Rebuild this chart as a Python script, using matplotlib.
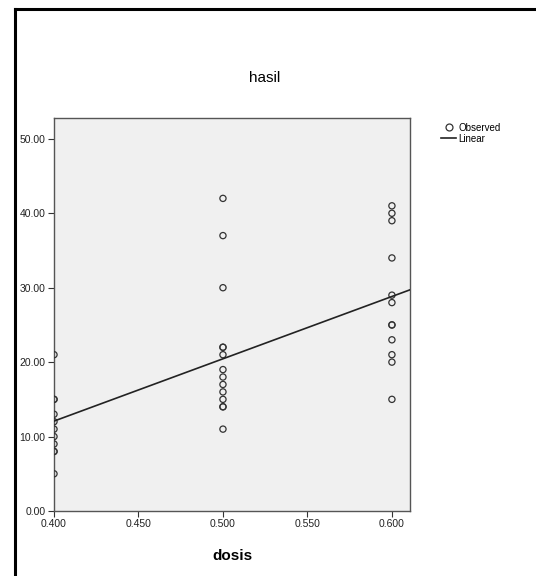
import matplotlib
matplotlib.use("Agg")
import matplotlib.pyplot as plt
import numpy as np
from matplotlib.lines import Line2D

plt.rcParams['font.family'] = ['Liberation Sans', 'DejaVu Sans']

# Observed data: dosis -> hasil
dosis_04 = [21, 15, 15, 13, 12, 11, 10, 9, 8, 8, 5]
dosis_05 = [42, 37, 30, 22, 22, 21, 19, 18, 17, 16, 15, 14, 14, 11]
dosis_06 = [41, 40, 39, 34, 29, 28, 25, 25, 23, 21, 20, 15]
dose_levels = [0.4, 0.5, 0.6]

x_ticks = [0.400, 0.450, 0.500, 0.550, 0.600]
y_ticks = [0.0, 10.0, 20.0, 30.0, 40.0, 50.0]

x = np.concatenate([np.full(len(v), d) for d, v in zip(dose_levels, [dosis_04, dosis_05, dosis_06])])
y = np.concatenate([dosis_04, dosis_05, dosis_06]).astype(float)

fig = plt.figure(figsize=(5.36, 5.76), dpi=100)
ax = fig.add_axes([54/536, 1-511/576, (410-54)/536, (511-118)/576])
ax.set_facecolor('#f0f0f0')

ax.scatter(x, y, s=20, facecolors='none', edgecolors='#333333', linewidths=0.9, zorder=3, clip_on=True)

slope, intercept = np.polyfit(x, y, 1)
xl = np.array([0.4, 0.6107])
ax.plot(xl, intercept + slope * xl, color='#222222', lw=1.2, zorder=4)

ax.set_xlim(0.4, 0.6107)
ax.set_ylim(0, 52.8)
ax.set_xticks(x_ticks)
ax.set_xticklabels([f"{t:.3f}" for t in x_ticks])
ax.set_yticks(y_ticks)
ax.set_yticklabels([f"{t:.2f}" for t in y_ticks])
ax.tick_params(direction='out', length=4, width=0.8, colors='#333333', labelsize=7.5, labelcolor='#222222', pad=2)
for s in ax.spines.values():
    s.set_color('#555555')
    s.set_linewidth(1.0)

ax.set_xlabel('dosis', fontsize=11, fontweight='bold', labelpad=14)
fig.text(265/536, 1-78/576, 'hasil', ha='center', va='center', fontsize=11)

handles = [Line2D([], [], marker='o', ls='none', mfc='none', mec='#333333', ms=5, mew=0.9),
           Line2D([], [], color='#222222', lw=1.2)]
fig.legend(handles, ['Observed', 'Linear'], loc='upper left', bbox_to_anchor=(436/536, 1-118/576),
           frameon=False, fontsize=7, handlelength=1.6, handletextpad=0.2, labelspacing=0.1, borderpad=0)

# outer frame lines
fig.add_artist(Line2D([15/536, 15/536], [0, 1-9/576], color='black', lw=2.2, transform=fig.transFigure))
fig.add_artist(Line2D([15/536, 1], [1-9/576, 1-9/576], color='black', lw=2.2, transform=fig.transFigure))

fig.savefig('out.png', dpi=100)
